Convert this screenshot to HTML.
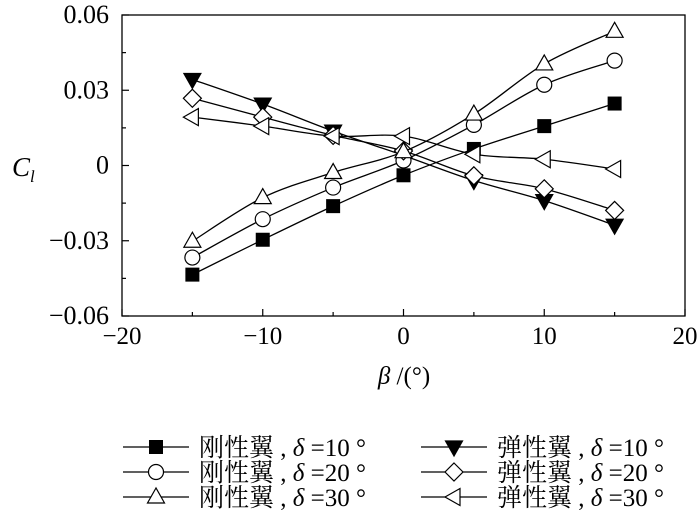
<!DOCTYPE html>
<html><head><meta charset="utf-8"><style>
html,body{margin:0;padding:0;background:#fff;}
svg{display:block;font-family:"Liberation Serif","Noto Serif CJK SC",serif;}
</style></head><body>
<svg id="chart" width="700" height="524" viewBox="0 0 700 524" xmlns="http://www.w3.org/2000/svg"></svg>
<script>
const xVals = [-15,-10,-5,0,5,10,15];
const rigid10 = [-0.0435,-0.0296,-0.0162,-0.0039,0.0066,0.0157,0.0247];
const rigid20 = [-0.0367,-0.0214,-0.0088,0.002,0.0162,0.0322,0.0418];
const rigid30 = [-0.0302,-0.0128,-0.0028,0.0055,0.0205,0.0405,0.0535];
const elastic10 = [0.0343,0.0245,0.0137,0.004,-0.006,-0.014,-0.0238];
const elastic20 = [0.0268,0.0193,0.012,0.0058,-0.0041,-0.0093,-0.0179];
const elastic30 = [0.0193,0.0157,0.0117,0.0117,0.0045,0.0025,-0.0014];
const xTicks = [-20,-10,0,10,20];
const yTicks = [-0.06,-0.03,0,0.03,0.06];
const yTickLabels = ["\u22120.06","\u22120.03","0","0.03","0.06"];
const xTickLabels = ["\u221220","\u221210","0","10","20"];

const NS="http://www.w3.org/2000/svg";
const svg=document.getElementById('chart');
const L=122,R=685,T=15,B=316;
const sx=v=>L+(v+20)/40*(R-L);
const sy=v=>B-(v+0.06)/0.12*(B-T);
function mk(tag,attrs,parent){const e=document.createElementNS(NS,tag);for(const k in attrs)e.setAttribute(k,attrs[k]);(parent||svg).appendChild(e);return e;}

const frame=mk('rect',{x:L,y:T,width:R-L,height:B-T,fill:'none',stroke:'#000','stroke-width':1.3});



for(let v=-20;v<=20;v+=5){const major=v%10===0;const t=mk('line',{x1:sx(v),x2:sx(v),y1:B,y2:B-(major?7:4),stroke:'#000','stroke-width':1.2});

}
for(let i=0;i<=8;i++){const v=-0.06+i*0.015;const major=i%2===0;const t=mk('line',{x1:L,x2:L+(major?7:4),y1:sy(v),y2:sy(v),stroke:'#000','stroke-width':1.2});

}
xTicks.forEach((v,i)=>{const t=mk('text',{x:sx(v),y:B+28,'text-anchor':'middle','font-size':25});t.textContent=xTickLabels[i];

});
yTicks.forEach((v,i)=>{const t=mk('text',{x:L-13,y:sy(v)+8,'text-anchor':'end','font-size':26});t.textContent=yTickLabels[i];

});
const xt=mk('text',{x:404,y:384,'text-anchor':'middle','font-size':25});xt.innerHTML='<tspan font-style="italic">β</tspan> /(°)';


const yt=mk('text',{x:12,y:176,'font-size':27,'font-style':'italic'});yt.innerHTML='C<tspan font-size="17" dy="6">l</tspan>';



function marker(type,x,y,g){const s=7;let e;
 if(type==='square')e=mk('rect',{x:x-s,y:y-s,width:2*s,height:2*s,fill:'#000'},g);
 else if(type==='circle')e=mk('circle',{cx:x,cy:y,r:7.5,fill:'#fff',stroke:'#000','stroke-width':1.2},g);
 else if(type==='up')e=mk('polygon',{points:`${x},${y-9} ${x-8.5},${y+6} ${x+8.5},${y+6}`,fill:'#fff',stroke:'#000','stroke-width':1.2},g);
 else if(type==='down')e=mk('polygon',{points:`${x},${y+9} ${x-8.5},${y-6} ${x+8.5},${y-6}`,fill:'#000',stroke:'#000','stroke-width':1.2},g);
 else if(type==='diamond')e=mk('polygon',{points:`${x},${y-9} ${x+9},${y} ${x},${y+9} ${x-9},${y}`,fill:'#fff',stroke:'#000','stroke-width':1.2},g);
 else e=mk('polygon',{points:`${x-9},${y} ${x+6},${y-8.5} ${x+6},${y+8.5}`,fill:'#fff',stroke:'#000','stroke-width':1.2},g);
 return e;}
function smooth(pts){let d=`M${pts[0][0]},${pts[0][1]}`;for(let i=0;i<pts.length-1;i++){const p0=pts[Math.max(i-1,0)],p1=pts[i],p2=pts[i+1],p3=pts[Math.min(i+2,pts.length-1)];
 d+=` C${p1[0]+(p2[0]-p0[0])/6},${p1[1]+(p2[1]-p0[1])/6} ${p2[0]-(p3[0]-p1[0])/6},${p2[1]-(p3[1]-p1[1])/6} ${p2[0]},${p2[1]}`;}return d;}
const series=[
 {d:rigid10,m:'square',name:'series-rigid-10',label:'刚性翼',deg:'10',col:0,row:0},
 {d:elastic10,m:'down',name:'series-elastic-10',label:'弹性翼',deg:'10',col:1,row:0},
 {d:rigid20,m:'circle',name:'series-rigid-20',label:'刚性翼',deg:'20',col:0,row:1},
 {d:elastic20,m:'diamond',name:'series-elastic-20',label:'弹性翼',deg:'20',col:1,row:1},
 {d:rigid30,m:'up',name:'series-rigid-30',label:'刚性翼',deg:'30',col:0,row:2},
 {d:elastic30,m:'left',name:'series-elastic-30',label:'弹性翼',deg:'30',col:1,row:2}];
series.forEach(s=>{const g=mk('g',{});
 
 
 const pts=xVals.map((x,i)=>[sx(x),sy(s.d[i])]);
 mk('path',{d:smooth(pts),fill:'none',stroke:'#000','stroke-width':1.3},g);
 pts.forEach(p=>{const m=marker(s.m,p[0],p[1],g);
 
 });
 const lx=s.col?421:123, ly=447+s.row*25;
 const lg=mk('g',{});
 
 
 mk('line',{x1:lx,x2:lx+66,y1:ly,y2:ly,stroke:'#000','stroke-width':1.3},lg);
 marker(s.m,lx+33,ly,lg);
 const t=mk('text',{x:lx+76,y:ly+9,'font-size':25},lg);
 t.innerHTML=`${s.label} , <tspan font-style="italic">δ</tspan> =${s.deg} °`;
});
</script>
</body></html>
